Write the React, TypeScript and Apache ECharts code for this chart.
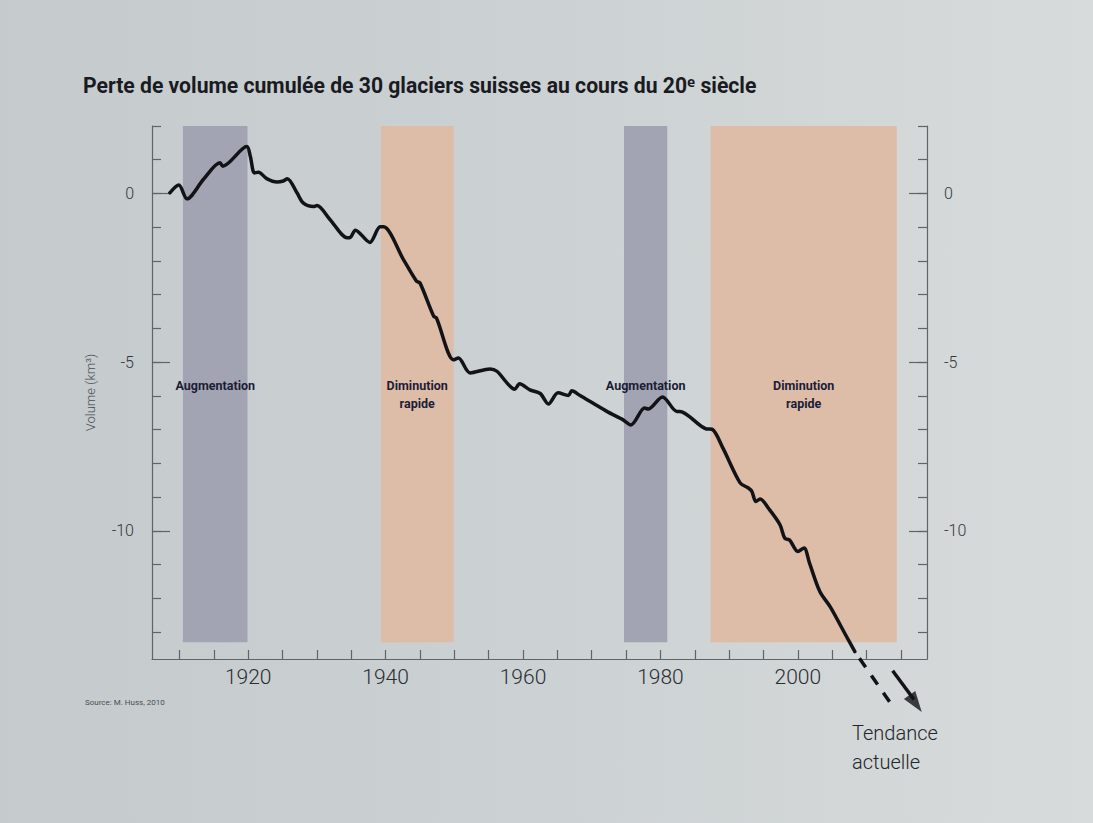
import React, { useEffect, useRef } from "react";
import * as echarts from "echarts";

// ---- data ----
const title = "Perte de volume cumulée de 30 glaciers suisses au cours du 20ᵉ siècle";
const yAxisName = "Volume (km³)";
const sourceText = "Source: M. Huss, 2010";
const trendText = "Tendance\nactuelle";

const xTicks = [1910, 1915, 1920, 1925, 1930, 1935, 1940, 1945, 1950, 1955, 1960, 1965, 1970, 1975, 1980, 1985, 1990, 1995, 2000, 2005, 2010, 2015];
const xLabels = [1920, 1940, 1960, 1980, 2000];
const yTicks = [2, 1, 0, -1, -2, -3, -4, -5, -6, -7, -8, -9, -10, -11, -12, -13];
const yLabels = [0, -5, -10];

// cumulative volume (km3) vs year
const volume: [number, number][] = [
  [1908.6, 0.02], [1909.9, 0.25], [1911.1, -0.16], [1913.5, 0.42], [1915.9, 0.91],
  [1916.3, 0.81], [1919.8, 1.39], [1920.3, 1.11], [1920.9, 0.61], [1921.5, 0.63],
  [1922.7, 0.44], [1924.2, 0.34], [1925.1, 0.37], [1925.7, 0.44], [1927.1, 0.02],
  [1928.0, -0.28], [1929.5, -0.39], [1930.0, -0.36], [1931.9, -0.77], [1934.4, -1.31],
  [1934.8, -1.31], [1935.6, -1.09], [1937.7, -1.45], [1939.2, -0.99], [1939.7, -0.99],
  [1942.6, -1.96], [1944.5, -2.6], [1945.0, -2.65], [1947.0, -3.64], [1947.4, -3.69],
  [1949.9, -4.93], [1950.6, -4.88], [1952.3, -5.32], [1955.2, -5.2], [1956.2, -5.27],
  [1958.8, -5.8], [1959.5, -5.64], [1961.0, -5.82], [1962.5, -5.93], [1963.7, -6.24],
  [1965.1, -5.91], [1966.6, -5.99], [1967.1, -5.85], [1968.3, -5.99], [1972.2, -6.46],
  [1974.4, -6.69], [1975.7, -6.86], [1977.7, -6.36], [1978.2, -6.39], [1980.3, -6.03],
  [1982.4, -6.46], [1982.8, -6.46], [1986.7, -6.98], [1987.5, -6.99], [1989.1, -7.55],
  [1991.6, -8.58], [1992.8, -8.73], [1993.3, -8.83], [1993.9, -9.13], [1994.5, -9.06],
  [1995.9, -9.38], [1997.4, -9.82], [1998.1, -10.22], [1998.8, -10.27], [2000.0, -10.61],
  [2000.9, -10.51], [2001.7, -10.96], [2003.2, -11.8], [2004.7, -12.25], [2007.1, -13.14],
  [2008.3, -13.58],
];
// dashed trend continuation
const trendDashed: [number, number][] = [[2008.3, -13.58], [2013.8, -15.2]];
// arrow shaft and head
const arrowShaft: [number, number][] = [[2013.8, -14.15], [2016.9, -15.0]];
const arrowHead: [number, number][] = [[2017.15, -15.12]];

// periods (start year, end year, label, kind)
const periodStarts = [1910.5, 1939.3, 1974.7, 1987.3];
const periodEnds = [1919.9, 1949.9, 1981.0, 2014.4];
const periodLabels = ["Augmentation", "Diminution\nrapide", "Augmentation", "Diminution\nrapide"];
const periodKinds = ["gain", "loss", "gain", "loss"];
const bandTop = 2.15;
const bandBottom = -13.3;

const FONT = "Roboto, 'Noto Sans', sans-serif";
const AXIS_COLOR = "#5f6468";

export default function App() {
  const ref = useRef<HTMLDivElement>(null);
  useEffect(() => {
    if (!ref.current) return;
    const chart = echarts.init(ref.current, undefined, { renderer: "svg" });

    const areas = periodStarts.map((s, i) => {
      const gain = periodKinds[i] === "gain";
      return [
        {
          xAxis: s,
          yAxis: bandTop,
          itemStyle: { color: gain ? "#a2a4b3" : "#ddbca8", opacity: 1 },
          label: {
            show: true,
            position: "inside",
            formatter: periodLabels[i],
            color: "#1c1d36",
            fontFamily: FONT,
            fontWeight: "bold",
            fontSize: 12.5,
            lineHeight: 18,
            offset: gain ? [0, 1] : [0, 10],
          },
        },
        { xAxis: periodEnds[i], yAxis: bandBottom },
      ];
    });

    const yBase = {
      type: "value",
      min: -13.8,
      max: 2,
      splitLine: { show: false },
    };

    chart.setOption({
      animation: false,
      backgroundColor: "transparent",
      grid: { left: 152, right: 166, top: 126, bottom: 164, containLabel: false },
      xAxis: {
        type: "value",
        min: 1906,
        max: 2018.8,
        splitLine: { show: false },
        axisLine: { show: true, onZero: false, lineStyle: { color: AXIS_COLOR, width: 1.2 } },
        axisTick: { show: true, inside: true, length: 9, customValues: xTicks, lineStyle: { color: AXIS_COLOR, width: 1.2 } },
        axisLabel: {
          customValues: xLabels,
          formatter: (v: number) => String(v),
          fontSize: 21,
          fontFamily: FONT,
          fontWeight: 300,
          color: "#2a2d33",
          margin: 7,
        },
      },
      yAxis: [
        {
          ...yBase,
          position: "left",
          axisLine: { show: true, lineStyle: { color: AXIS_COLOR, width: 1.2 } },
          axisTick: { show: true, inside: true, length: 9, customValues: yTicks, lineStyle: { color: AXIS_COLOR, width: 1.2 } },
          axisLabel: { customValues: yLabels, fontSize: 16, fontFamily: FONT, fontWeight: 300, color: "#33363c", margin: 18 },
          name: yAxisName,
          nameLocation: "middle",
          nameRotate: 90,
          nameGap: 55,
          nameTextStyle: { fontSize: 13, fontFamily: FONT, fontWeight: 300, color: "#4a4e55" },
        },
        {
          ...yBase,
          position: "left",
          axisLine: { show: false },
          axisTick: { show: true, inside: true, length: 18, customValues: yLabels, lineStyle: { color: AXIS_COLOR, width: 1.2 } },
          axisLabel: { show: false },
        },
        {
          ...yBase,
          position: "right",
          axisLine: { show: true, lineStyle: { color: AXIS_COLOR, width: 1.2 } },
          axisTick: { show: true, inside: true, length: 9, customValues: yTicks, lineStyle: { color: AXIS_COLOR, width: 1.2 } },
          axisLabel: { customValues: yLabels, fontSize: 16, fontFamily: FONT, fontWeight: 300, color: "#33363c", margin: 17 },
        },
        {
          ...yBase,
          position: "right",
          axisLine: { show: false },
          axisTick: { show: true, inside: true, length: 18, customValues: yLabels, lineStyle: { color: AXIS_COLOR, width: 1.2 } },
          axisLabel: { show: false },
        },
      ],
      series: [
        {
          type: "line",
          name: "bands",
          data: [],
          clip: false,
          silent: true,
          markArea: { silent: true, data: areas },
        },
        {
          type: "line",
          name: "Volume",
          data: volume,
          smooth: 0.3,
          showSymbol: false,
          symbol: "none",
          clip: false,
          z: 5,
          lineStyle: { color: "#121316", width: 3.5, cap: "round", join: "round" },
        },
        {
          type: "line",
          name: "Tendance",
          data: trendDashed,
          showSymbol: false,
          symbol: "none",
          clip: false,
          z: 5,
          lineStyle: { color: "#121316", width: 3.5, type: [11, 10], dashOffset: -8 },
        },
        {
          type: "line",
          name: "Flèche",
          data: arrowShaft,
          showSymbol: false,
          symbol: "none",
          clip: false,
          z: 5,
          lineStyle: { color: "#121316", width: 3.5 },
        },
        {
          type: "scatter",
          name: "Pointe",
          data: arrowHead,
          clip: false,
          z: 6,
          symbol: "path://M0,20 L6,0 L12,20 Z",
          symbolSize: [14, 21],
          symbolRotate: -144.5,
          itemStyle: { color: "#121316" },
        },
      ],
      graphic: [
        {
          type: "text",
          x: 83,
          y: 74,
          scaleX: 0.94,
          style: {
            text: title,
            fontSize: 22.5,
            fontWeight: "bold",
            fontFamily: FONT,
            fill: "#1a1b22",
          },
        },
        {
          type: "text",
          left: 85,
          top: 698,
          style: { text: sourceText, fontSize: 8, fontFamily: FONT, fill: "#4a4e55" },
        },
        {
          type: "text",
          left: 852,
          top: 718,
          style: {
            text: trendText,
            fontSize: 20,
            lineHeight: 29,
            fontFamily: FONT,
            fontWeight: 300,
            fill: "#22252b",
          },
        },
      ],
    });
    return () => chart.dispose();
  }, []);

  return (
    <div
      style={{
        position: "fixed",
        left: 0,
        top: 0,
        width: 1093,
        height: 823,
        background: "linear-gradient(90deg, #c5cacd 0%, #cbd0d2 45%, #d7dbdb 100%)",
      }}
    >
      <div ref={ref} style={{ width: 1093, height: 823 }} />
    </div>
  );
}
